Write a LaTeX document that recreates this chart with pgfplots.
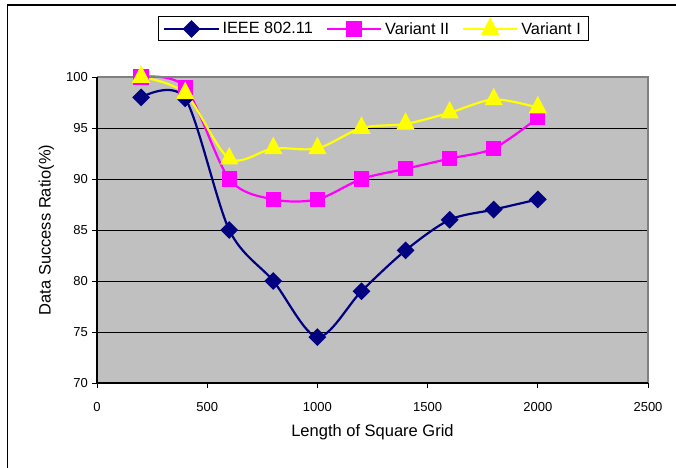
\documentclass[border=0pt]{standalone}
\usepackage{fontspec}
\setmainfont{Liberation Sans}
\usepackage{pgfplots}
\pgfplotsset{compat=1.18}
\definecolor{plotbg}{RGB}{192,192,192}
\definecolor{framegray}{RGB}{128,128,128}
\definecolor{ieee}{RGB}{0,0,128}
\definecolor{vtwo}{RGB}{255,0,255}
\definecolor{vone}{RGB}{255,255,0}
\begin{document}
\begin{tikzpicture}
\useasboundingbox (0,0) rectangle (676bp,468bp);
\draw[black, line width=1.2bp] (7.5bp,0bp) -- (7.5bp,463bp) -- (676bp,463bp);
\begin{axis}[
  at={(97bp,85bp)}, anchor=south west,
  width=551bp, height=306bp, scale only axis,
  xmin=0, xmax=2500, ymin=70, ymax=100,
  xtick={0,500,...,2500}, ytick={70,75,...,100},
  xtick pos=left, ytick pos=left,
  tick align=outside, major tick length=5bp,
  tick style={black, line width=0.8bp},
  axis line style={draw=none},
  axis background/.style={fill=plotbg},
  ymajorgrids, grid style={black, line width=0.8bp},
  clip=false,
  /pgf/number format/assume math mode=true,
  /pgf/number format/set thousands separator={},
  ticklabel style={font=\fontsize{13bp}{15bp}\selectfont},
  yticklabel style={inner sep=0pt, xshift=-4bp},
  xticklabel style={inner sep=0pt, yshift=-14bp},
  xlabel={Length of Square Grid},
  ylabel={Data Success Ratio(\%)},
  label style={font=\fontsize{16.5bp}{19bp}\selectfont},
  xlabel style={at={(axis description cs:0.5,-0.16)}, anchor=center},
  ylabel style={at={(axis description cs:-0.092,0.5)}, anchor=center, rotate=0},
  legend columns=3,
  legend style={at={(axis description cs:0.502,1.158)}, anchor=center,
    draw=black, line width=0.8bp, fill=white,
    font=\fontsize{16.3bp}{19bp}\selectfont,
    inner xsep=5bp, inner ysep=3bp,
    /tikz/every even column/.append style={column sep=10bp},
    nodes={inner xsep=3bp}},
  legend image code/.code={
    \draw[mark repeat=2, mark phase=2, #1] plot coordinates {(0bp,0bp) (27bp,0bp) (54bp,0bp)};
  },
  every axis plot/.append style={line width=2.2bp, smooth, tension=0.5},
]
\addplot[ieee, mark=square*, mark size=5.2bp, mark options={rotate=45, solid, fill=ieee}] coordinates {
(200,98) (400,97.9) (600,85) (800,80) (1000,74.5) (1200,79) (1400,83) (1600,86) (1800,87) (2000,88)};
\addlegendentry{IEEE 802.11}
\addplot[vtwo, mark=square*, mark size=6.5bp, mark options={solid, fill=vtwo}] coordinates {
(200,100) (400,99) (600,90) (800,88) (1000,88) (1200,90) (1400,91) (1600,92) (1800,93) (2000,96)};
\addlegendentry{Variant II}
\addplot[vone, mark=triangle*, mark size=8.5bp, mark options={solid, fill=vone, yscale=1.1}] coordinates {
(200,100) (400,98.4) (600,92) (800,93) (1000,93) (1200,95) (1400,95.4) (1600,96.5) (1800,97.8) (2000,97)};
\addlegendentry{Variant I}
\draw[framegray, line width=2.2bp] (rel axis cs:0,1) -- (rel axis cs:1,1) -- (rel axis cs:1,0);
\draw[black, line width=1.2bp] (rel axis cs:0,1) -- (rel axis cs:0,0) -- (rel axis cs:1,0);
\end{axis}
\end{tikzpicture}
\end{document}
